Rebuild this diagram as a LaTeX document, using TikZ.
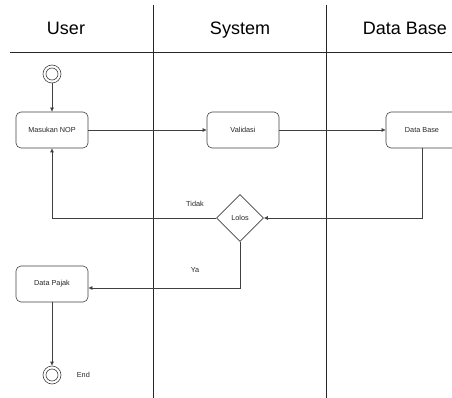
\documentclass[tikz,border=0pt]{standalone}
\usepackage{fontspec}
\setmainfont{Liberation Sans}
\usetikzlibrary{positioning,arrows.meta,shapes.geometric}

\begin{document}
\begin{tikzpicture}[x=1pt, y=-1pt, >={Latex[length=4pt,width=4pt]},
    every node/.style={font=\fontsize{7.3}{8}\selectfont, text=black!85},
    lane/.style={draw=black!85, line width=0.7pt},
    flow/.style={draw=black!75, line width=0.6pt},
    act/.style={draw=black!75, line width=0.6pt, rounded corners=5pt, minimum width=72pt, minimum height=36pt},
    decision/.style={draw=black!75, line width=0.6pt, diamond, minimum size=47pt, inner sep=0pt},
    term/.style={draw=black!75, line width=0.6pt, circle, minimum size=18pt, inner sep=0pt},
    header/.style={font=\fontsize{18}{20}\selectfont, text=black, anchor=base}]
      \useasboundingbox (0,0) rectangle (452,398);
      \clip (0,0) rectangle (452,398);

      % swimlanes
      \draw[lane] (153,5) -- (153,398);
      \draw[lane] (326,5) -- (326,398);
      \draw[lane] (10,52) -- (452,52);
      \node[header] (huser) at (66,35) {User};
      \node[header] (hsys) at (240,35) {System};
      \node[header] (hdb) at (405,35) {Data Base};

      % activities
      \node[term] (start) at (52,74) {};
      \draw[flow] (start.center) circle (6pt);
      \node[act] (nop) at (52,130) {Masukan NOP};
      \node[act] (valid) at (243,130) {Validasi};
      \node[act] (db) at (422,130) {Data Base};
      \node[decision] (lolos) at (240,218) {Lolos};
      \node[act] (pajak) at (52,284) {Data Pajak};
      \node[term] (end) at (52,375) {};
      \draw[flow] (end.center) circle (6pt);
      \node[right=12pt of end] (endlbl) {End};

      \coordinate (ya) at (240,288);

      \draw[flow, ->] (start) -- (nop);
      \draw[flow, ->] (nop) -- (valid);
      \draw[flow, ->] (valid) -- (db);
      \draw[flow, ->] (db.south) |- (lolos.east);
      \draw[flow, ->] (lolos.west) -| (nop.south);
      \draw[flow, ->] (lolos.south) -- (ya) -- (ya -| pajak.east);
      \draw[flow, ->] (pajak) -- (end);
      \node (tidak) at (195,204) {Tidak};
      \node (yalbl) at (195,270) {Ya};
    \end{tikzpicture}
\end{document}
